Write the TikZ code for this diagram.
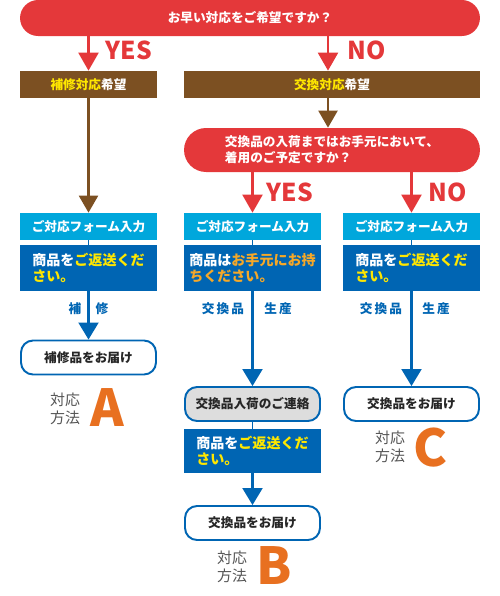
\documentclass[tikz,border=0pt]{standalone}
\usepackage{fontspec}
\setmainfont{Noto Sans CJK JP}
\usetikzlibrary{arrows.meta}
\definecolor{flowRed}{RGB}{228,56,58}
\definecolor{flowBrown}{RGB}{124,80,34}
\definecolor{flowYellow}{RGB}{255,231,0}
\definecolor{flowCyan}{RGB}{0,167,220}
\definecolor{flowBlue}{RGB}{0,101,179}
\definecolor{flowOrange}{RGB}{246,168,40}
\definecolor{flowLetter}{RGB}{232,112,32}
\definecolor{flowGray}{RGB}{85,85,85}
\definecolor{flowPale}{RGB}{221,221,221}

\begin{document}
\begin{tikzpicture}[
  x=0.02cm, y=-0.02cm,
  font=\fontsize{7.2}{9}\selectfont\bfseries,
  question/.style={fill=flowRed, text=white, rounded corners=0.36cm,
              minimum height=0.72cm, inner sep=0pt},
  choice/.style={fill=flowBrown, text=white, minimum width=2.74cm,
              minimum height=0.54cm, inner sep=0pt},
  form/.style={fill=flowCyan, text=white, minimum width=2.74cm,
              minimum height=0.54cm, inner sep=0pt},
  order/.style={fill=flowBlue, text=white, minimum width=2.74cm,
              minimum height=0.92cm, inner sep=0pt, align=left,
              font=\fontsize{8}{9.2}\selectfont\bfseries},
  finish/.style={draw=flowBlue, line width=1.1pt, fill=white, text=black!85,
              rounded corners=0.24cm, minimum width=2.7cm,
              minimum height=0.68cm, inner sep=0pt},
  answer/.style={text=flowRed, font=\fontsize{14}{14}\selectfont\bfseries},
  branch/.style={text=flowBlue},
  method/.style={text=flowGray, align=left,
              font=\fontsize{8.5}{10}\selectfont\mdseries},
  letter/.style={text=flowLetter, font=\fontsize{29}{29}\selectfont\bfseries},
  redarrow/.style={-{Triangle[width=0.4cm,length=0.36cm]}, line width=1.3pt, draw=flowRed},
  brownarrow/.style={-{Triangle[width=0.38cm,length=0.34cm]}, line width=1.3pt, draw=flowBrown},
  bluearrow/.style={-{Triangle[width=0.4cm,length=0.34cm]}, line width=1.2pt, draw=flowBlue},
  joint/.style={line width=0.8pt, draw=flowBlue}
]
\useasboundingbox (0,0) rectangle (500,596);

% questions and first choice
\node[question, minimum width=9.2cm] (early) at (250,18) {お早い対応をご希望ですか？};
\node[choice] (repair) at (88.5,84.5) {\textcolor{flowYellow}{補修対応}希望};
\node[choice, minimum width=5.92cm] (exchange) at (332,84.5) {\textcolor{flowYellow}{交換対応}希望};
\coordinate (nobranch) at ([xshift=-0.08cm]exchange.north);
\node[question, minimum width=5.92cm, minimum height=0.88cm, rounded corners=0.44cm,
      align=left] (wear) at (332,150) {交換品の入荷まではお手元において、\\着用のご予定ですか？};

\node[answer] (yesA) at (129,50) {YES};
\node[answer] (noA) at (367,50) {NO};
\node[answer] (yesB) at (290,192) {YES};
\node[answer] (noB) at (448,192) {NO};

% three columns
\node[form] (formA) at (88.5,226.5) {ご対応フォーム入力};
\node[form] (formB) at (252.5,226.5) {ご対応フォーム入力};
\node[form] (formC) at (411.5,226.5) {ご対応フォーム入力};

\node[order] (sendA) at (88.5,268) {商品を\textcolor{flowYellow}{ご返送くだ}\\\textcolor{flowYellow}{さい。}};
\node[order] (keepB) at (252.5,268) {商品は\textcolor{flowOrange}{お手元にお持}\\\textcolor{flowOrange}{ちください。}};
\node[order] (sendC) at (411.5,268) {商品を\textcolor{flowYellow}{ご返送くだ}\\\textcolor{flowYellow}{さい。}};

\node[branch] (repL) at (75,309) {補};
\node[branch] (repR) at (102,309) {修};
\node[branch] (exL) at (223,309) {交\,換\,品};
\node[branch] (exR) at (278,309) {生\,産};
\node[branch] (exL2) at (381,309) {交\,換\,品};
\node[branch] (exR2) at (436,309) {生\,産};

\node[finish] (doneA) at (88.5,357.5) {補修品をお届け};
\node[finish, fill=flowPale] (notice) at (252.5,404) {交換品入荷のご連絡};
\node[order, minimum height=0.88cm] (sendB) at (252.5,451) {商品を\textcolor{flowYellow}{ご返送くだ}\\\textcolor{flowYellow}{さい。}};
\node[finish] (doneB) at (252.5,523) {交換品をお届け};
\node[finish] (doneC) at (411.5,404) {交換品をお届け};

% methods
\node[method] (methA) at (65,409) {対応\\方法};
\node[letter] (letA) at (107.5,408) {A};
\node[method] (methB) at (232,567) {対応\\方法};
\node[letter] (letB) at (274,566) {B};
\node[method] (methC) at (390,447) {対応\\方法};
\node[letter] (letC) at (430,448) {C};

% connectors
\draw[redarrow] (early.south -| repair.north) -- (repair.north);
\draw[redarrow] (early.south -| nobranch) -- (nobranch);
\draw[brownarrow] (exchange.south -| nobranch) -- (wear.north -| nobranch);
\draw[brownarrow] (repair.south) -- (formA.north);
\draw[redarrow] (wear.south -| formB.north) -- (formB.north);
\draw[redarrow] (wear.south -| formC.north) -- (formC.north);
\draw[joint] (formA.south) -- (sendA.north);
\draw[joint] (formB.south) -- (keepB.north);
\draw[joint] (formC.south) -- (sendC.north);
\draw[bluearrow] (sendA.south) -- (doneA.north);
\draw[bluearrow] (keepB.south) -- (notice.north);
\draw[joint] (notice.south) -- (sendB.north);
\draw[bluearrow] (sendB.south) -- (doneB.north);
\draw[bluearrow] (sendC.south) -- (doneC.north);
\end{tikzpicture}
\end{document}
